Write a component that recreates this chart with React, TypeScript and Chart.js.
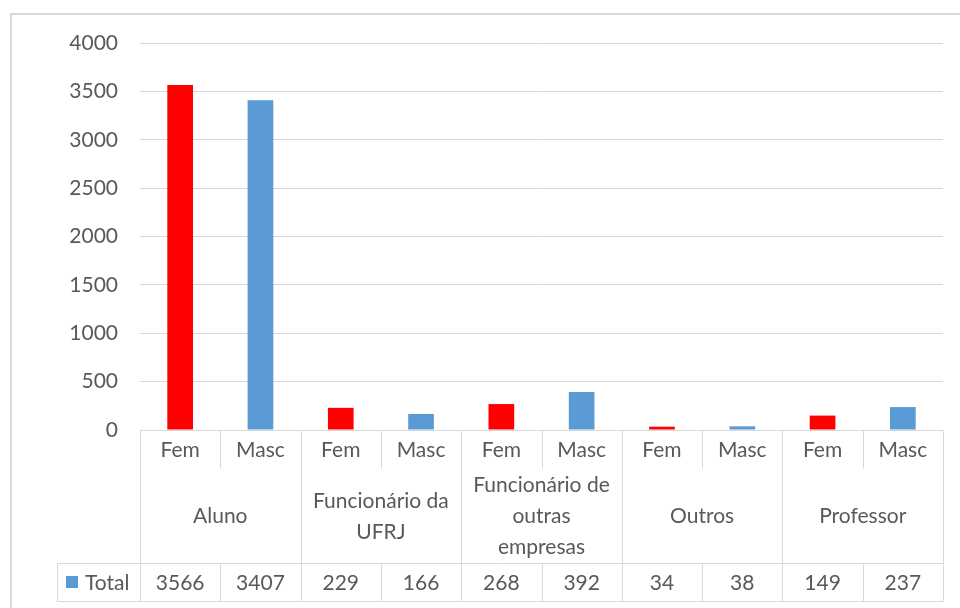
import React, { useEffect, useRef } from "react";
import { Chart, registerables } from "chart.js";

Chart.register(...registerables);

const groupLabels: string[][] = [
  ["Aluno"],
  ["Funcionário da", "UFRJ"],
  ["Funcionário de", "outras", "empresas"],
  ["Outros"],
  ["Professor"],
];
const genders = ["Fem", "Masc"];
const totals = [3566, 3407, 229, 166, 268, 392, 34, 38, 149, 237];
const seriesName = "Total";
const yTicks = { min: 0, max: 4000, step: 500 };

const FEM_COLOR = "#FF0000";
const MASC_COLOR = "#5B9BD5";
const TEXT = "#595959";
const LINE = "#D9D9D9";
const FONT = "Lato";
const FS = 21;

const tablePlugin = {
  id: "dataTable",
  beforeDraw(chart: any) {
    const ctx = chart.ctx;
    ctx.save();
    ctx.fillStyle = "#ffffff";
    ctx.fillRect(0, 0, chart.width, chart.height);
    ctx.strokeStyle = LINE;
    ctx.lineWidth = 2;
    ctx.strokeRect(11, 14, chart.width + 50, chart.height + 50);
    ctx.restore();
  },
  afterDraw(chart: any) {
    const ctx = chart.ctx;
    const xs = chart.scales.x;
    const area = chart.chartArea;
    const n = totals.length;
    const colW = (area.right - area.left) / n;
    const left = area.left;
    const right = area.right;
    const r0 = area.bottom;
    const r1 = r0 + 38;
    const r2 = r0 + 133;
    const r3 = r0 + 171;
    const legendLeft = 57;

    ctx.save();
    ctx.strokeStyle = LINE;
    ctx.lineWidth = 1;
    const line = (x1: number, y1: number, x2: number, y2: number) => {
      ctx.beginPath();
      ctx.moveTo(Math.round(x1) + 0.5, Math.round(y1) + 0.5);
      ctx.lineTo(Math.round(x2) + 0.5, Math.round(y2) + 0.5);
      ctx.stroke();
    };
    line(left, r0, right, r0);
    line(legendLeft, r2, right, r2);
    line(legendLeft, r3, right, r3);
    line(legendLeft, r2, legendLeft, r3);
    for (let i = 0; i <= n; i++) {
      const x = left + i * colW;
      if (i % 2 === 0) {
        line(x, r0, x, r3);
      } else {
        line(x, r0, x, r1);
        line(x, r2, x, r3);
      }
    }

    ctx.fillStyle = TEXT;
    ctx.font = `${FS}px ${FONT}`;
    ctx.textAlign = "center";
    ctx.textBaseline = "middle";
    for (let i = 0; i < n; i++) {
      const cx = xs.getPixelForValue(i);
      ctx.fillText(genders[i % 2], cx, (r0 + r1) / 2 + 1);
      ctx.fillText(String(totals[i]), cx, (r2 + r3) / 2 + 1);
    }
    const lh = 31;
    groupLabels.forEach((lines, g) => {
      const cx = left + (g * 2 + 1) * colW;
      const cy = (r1 + r2) / 2;
      lines.forEach((t, k) => {
        ctx.fillText(t, cx, cy + (k - (lines.length - 1) / 2) * lh + 1);
      });
    });

    ctx.fillStyle = MASC_COLOR;
    ctx.fillRect(66, (r2 + r3) / 2 - 6, 12, 12);
    ctx.fillStyle = TEXT;
    ctx.textAlign = "left";
    ctx.fillText(seriesName, 85, (r2 + r3) / 2 + 1);
    ctx.restore();
  },
};

export default function App() {
  const ref = useRef<HTMLCanvasElement>(null);
  useEffect(() => {
    document.body.style.margin = "0";
    const labels: string[] = [];
    const colors: string[] = [];
    groupLabels.forEach((g) => {
      genders.forEach((s, k) => {
        labels.push(`${g.join(" ")} ${s}`);
        colors.push(k === 0 ? FEM_COLOR : MASC_COLOR);
      });
    });
    const chart = new Chart(ref.current!, {
      type: "bar",
      data: {
        labels,
        datasets: [
          {
            label: seriesName,
            data: totals,
            backgroundColor: colors,
            borderWidth: 0,
            categoryPercentage: 1,
            barPercentage: 0.32,
          },
        ],
      },
      options: {
        responsive: false,
        animation: false,
        layout: { padding: { top: 43, bottom: 178, left: 0, right: 17 } },
        plugins: { legend: { display: false }, tooltip: { enabled: false } },
        scales: {
          x: { display: false },
          y: {
            min: yTicks.min,
            max: yTicks.max,
            border: { display: false },
            grid: { color: LINE, lineWidth: 1, drawTicks: false },
            afterFit(scale: any) {
              scale.width = 140;
            },
            ticks: {
              stepSize: yTicks.step,
              padding: 22,
              color: TEXT,
              font: { family: FONT, size: FS },
              callback: (v: any) => String(v),
            },
          },
        },
      },
      plugins: [tablePlugin],
    });
    return () => chart.destroy();
  }, []);
  return (
    <div style={{ width: 960, height: 608 }}>
      <canvas ref={ref} width={960} height={608} style={{ display: "block" }} />
    </div>
  );
}
